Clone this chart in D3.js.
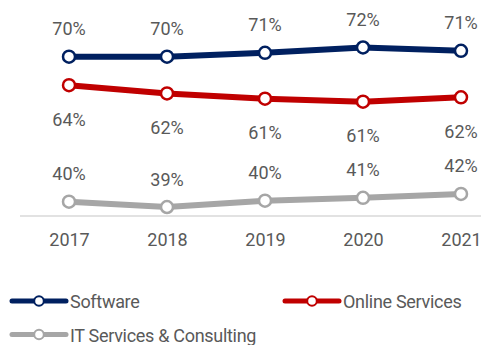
<!DOCTYPE html>
<html>
<head>
<meta charset="utf-8">
<script src="https://cdn.jsdelivr.net/npm/d3@7"></script>
<style>
  html, body { margin: 0; padding: 0; background: #fff; }
  svg { display: block; }
  text { font-family: Roboto, "Liberation Sans", sans-serif; fill: #595959; }
</style>
</head>
<body>
<svg id="chart" width="481" height="345"></svg>
<script>
// Share of companies by sector, 2017–2021 (percent)
const years = ["2017", "2018", "2019", "2020", "2021"];
const software = [70.0, 70.0, 70.8, 71.9, 71.2];
const onlineServices = [64.1, 62.4, 61.3, 60.7, 61.6];
const itServices = [40.0, 38.9, 40.2, 40.8, 41.6];

const seriesNames = ["Software", "Online Services", "IT Services & Consulting"];
const seriesColors = ["#002060", "#C00000", "#A6A6A6"];
const labelSide = ["above", "below", "above"];

const series = [software, onlineServices, itServices].map((vals, i) => ({
  name: seriesNames[i],
  color: seriesColors[i],
  side: labelSide[i],
  points: vals.map((v, j) => ({ year: years[j], value: v }))
}));

const width = 481, height = 345;
const axisY = 216;
const fontSize = 18;
const svg = d3.select("#chart");

const x = d3.scalePoint().domain(years).range([69, 461]);
const y = d3.scaleLinear().domain([37, 75]).range([axisY + 0.2, 32.5]);
const fmt = v => Math.round(v) + "%";

// baseline
svg.append("line")
  .attr("x1", 20).attr("x2", width)
  .attr("y1", axisY).attr("y2", axisY)
  .attr("stroke", "#D9D9D9").attr("stroke-width", 1.5);

// year axis
const xAxis = svg.append("g")
  .attr("transform", `translate(0,${axisY})`)
  .call(d3.axisBottom(x).tickSize(0).tickPadding(17));
xAxis.select(".domain").remove();
xAxis.selectAll("text")
  .attr("font-size", fontSize)
  .style("font-family", "Roboto, sans-serif")
  .attr("fill", "#595959");

const line = d3.line().x(d => x(d.year)).y(d => y(d.value));

const g = svg.selectAll("g.series").data(series).join("g").attr("class", "series");

g.append("path")
  .attr("d", d => line(d.points))
  .attr("fill", "none")
  .attr("stroke", d => d.color)
  .attr("stroke-width", 6)
  .attr("stroke-linejoin", "round");

g.selectAll("circle")
  .data(d => d.points.map(p => ({ ...p, color: d.color })))
  .join("circle")
  .attr("cx", d => x(d.year))
  .attr("cy", d => y(d.value))
  .attr("r", 6)
  .attr("fill", "#fff")
  .attr("stroke", d => d.color)
  .attr("stroke-width", 2.5);

g.selectAll("text.lbl")
  .data(d => d.points.map(p => ({ ...p, side: d.side })))
  .join("text")
  .attr("class", "lbl")
  .attr("x", d => x(d.year))
  .attr("y", d => y(d.value) + (d.side === "above" ? -21.5 : 40.7))
  .attr("text-anchor", "middle")
  .attr("font-size", fontSize)
  .text(d => fmt(d.value));

// legend
const legendPos = [
  { x: 10, y: 301 },
  { x: 283, y: 301 },
  { x: 10, y: 334.5 }
];
const lg = svg.selectAll("g.legend").data(series).join("g")
  .attr("class", "legend")
  .attr("transform", (d, i) => `translate(${legendPos[i].x},${legendPos[i].y})`);
lg.append("line")
  .attr("x1", 2).attr("x2", 56)
  .attr("stroke", d => d.color)
  .attr("stroke-width", 5)
  .attr("stroke-linecap", "round");
lg.append("circle")
  .attr("cx", 29).attr("r", 4.8)
  .attr("fill", "#fff")
  .attr("stroke", d => d.color)
  .attr("stroke-width", 2);
lg.append("text")
  .attr("x", 60)
  .attr("y", 7)
  .attr("font-size", fontSize)
  .style("letter-spacing", "-0.3px")
  .text(d => d.name);
</script>
</body>
</html>
